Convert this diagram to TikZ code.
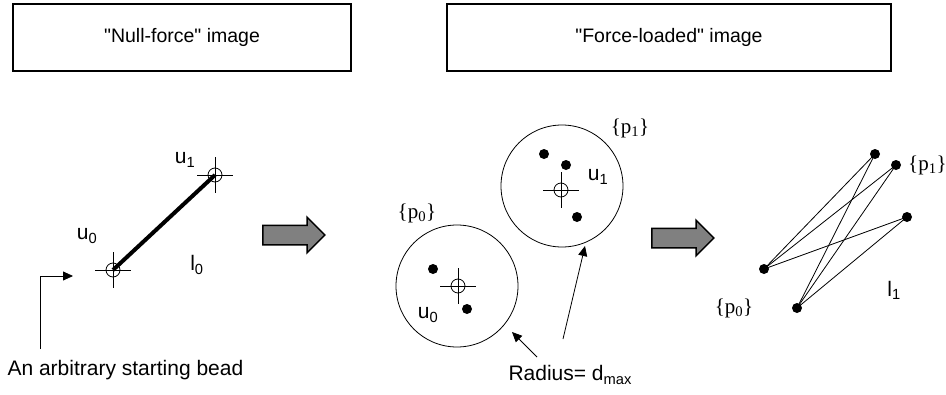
\documentclass[tikz,border=0pt]{standalone}
\usepackage{fontspec}
\setmainfont{Liberation Sans}
\newfontfamily\setfont{Liberation Serif}
\usetikzlibrary{positioning,arrows.meta,shapes.arrows}

\tikzset{
  frame/.style={draw, line width=1.4pt, minimum height=67pt, inner sep=0pt,
    font=\fontsize{19.5}{22}\selectfont},
  bead/.style={circle, draw, line width=0.8pt, minimum size=14pt, inner sep=0pt},
  dot/.style={circle, fill, minimum size=10pt, inner sep=0pt},
  zone/.style={circle, draw, line width=0.8pt, minimum size=122pt, inner sep=0pt},
  bigarrow/.style={single arrow, draw, line width=1.5pt, fill=black!50,
    inner sep=9pt, single arrow head extend=8pt, minimum height=62pt},
  pointer/.style={line width=0.8pt, -{Triangle[length=10pt,width=9pt]}},
  setlab/.style={font=\setfont\fontsize{21}{25}\selectfont, inner sep=0pt}
}
\newcommand{\beadcross}[1]{%
  \draw[line width=0.8pt] (#1.center) ++(-18,0) -- ++(36,0)
    (#1.center) ++(0,-18) -- ++(0,36);}
\newcommand{\pset}[1]{\{p\textsubscript{#1}\}}

\begin{document}
\begin{tikzpicture}[x=1pt, y=-1pt, every node/.style={font=\fontsize{21}{25}\selectfont}]
  \useasboundingbox (0,0) rectangle (946,394);

  % headings
  \node[frame, minimum width=338pt] (nullbox) at (182,37.5)
    {\textquotedbl Null-force\textquotedbl\ image};
  \node[frame, minimum width=444pt] (loadbox) at (669,37.5)
    {\textquotedbl Force-loaded\textquotedbl\ image};

  % null-force image
  \node[bead] (u0) at (113,270) {};
  \node[bead] (u1) at (215,175) {};
  \beadcross{u0}
  \beadcross{u1}
  \draw[line width=4pt] (u0.center) -- (u1.center);
  \node (u0lab) at (87,236) {u\textsubscript{0}};
  \node (u1lab) at (185,160) {u\textsubscript{1}};
  \node (l0lab) at (197,265) {l\textsubscript{0}};
  \coordinate (startfoot) at (40,349);
  \coordinate (starttip) at (73,276);
  \draw[pointer] (startfoot) |- (starttip);
  \node[anchor=west] (startlab) at (4,370) {An arbitrary starting bead};

  \node[bigarrow] (arrowA) at (289,235) {};

  % force-loaded image
  \node[zone] (zone0) at (457,286) {};
  \node[zone] (zone1) at (562,186) {};
  \node[bead] (v0) at (458,286) {};
  \node[bead] (v1) at (561,190) {};
  \beadcross{v0}
  \beadcross{v1}
  \node[dot] (a0) at (433,269) {};
  \node[dot] (b0) at (467,309) {};
  \node[dot] (a1) at (544,154) {};
  \node[dot] (b1) at (566,165) {};
  \node[dot] (c1) at (577,217) {};
  \node (v0lab) at (428,315) {u\textsubscript{0}};
  \node (v1lab) at (598,177) {u\textsubscript{1}};
  \node[setlab] (set0) at (417,213) {\pset{0}};
  \node[setlab] (set1) at (630,128) {\pset{1}};
  \node[anchor=west] (radlab) at (505,375) {Radius= d\textsubscript{max}};
  \coordinate (foot0) at (537,357);
  \coordinate (foot1) at (563,339);
  \coordinate (tip0) at (512,332);
  \coordinate (tip1) at (585,246);
  \draw[pointer] (foot0) -- (tip0);
  \draw[pointer] (foot1) -- (tip1);

  \node[bigarrow] (arrowB) at (678,238) {};

  % links
  \node[dot] (qa) at (875,154) {};
  \node[dot] (qb) at (896,165) {};
  \node[dot] (qc) at (907,217) {};
  \node[dot] (qd) at (764,269) {};
  \node[dot] (qe) at (797,308) {};
  \foreach \s in {qd,qe}
    \foreach \t in {qa,qb,qc}
      \draw[line width=0.8pt] (\s.center) -- (\t.center);
  \node[setlab, anchor=west] (set1b) at (908,165) {\pset{1}};
  \node[setlab] (set0b) at (734,308) {\pset{0}};
  \node (l1lab) at (894,290) {l\textsubscript{1}};
\end{tikzpicture}
\end{document}
